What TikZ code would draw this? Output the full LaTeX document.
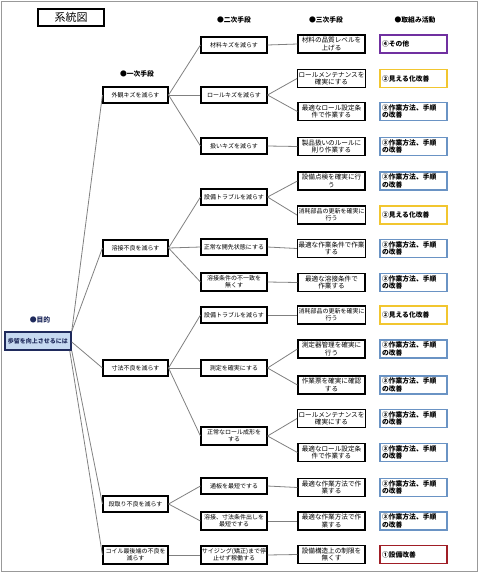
\documentclass[tikz,border=0pt]{standalone}
\usepackage{fontspec}
\setmainfont{Noto Sans CJK JP}
\begin{document}
\begin{tikzpicture}[x=1pt,y=-1pt,
  every node/.style={inner sep=1pt},
  box/.style={draw=black,line width=1.1pt,fill=white,minimum width=#1,minimum height=16,align=center,font=\fontsize{6}{7.2}\selectfont},
  box/.default=66,
  lone/.style={box=65},
  ltwo/.style={box=66},
  lthree/.style={box=67,font=\fontsize{6.6}{7.6}\selectfont},
  act/.style={draw=#1,line width=1.3pt,fill=white,minimum width=67,minimum height=18,text width=63,align=left,font=\fontsize{6.8}{7.8}\selectfont\bfseries},
  hdr/.style={font=\fontsize{6.8}{8}\selectfont\bfseries},
  conn/.style={draw=linegray,line width=0.8pt}
]
\definecolor{linegray}{HTML}{808080}
\definecolor{navy}{HTML}{1F2A5C}
\definecolor{rootfill}{HTML}{C6D9F1}
\definecolor{cpurple}{HTML}{7030A0}
\definecolor{cyellow}{HTML}{F2C62F}
\definecolor{cblue}{HTML}{6A93C4}
\definecolor{cred}{HTML}{A01E26}
\useasboundingbox (0,0) rectangle (480,573);
\draw[draw=linegray!80,line width=1pt] (1,1) rectangle (477,571.5);

% title
\node[draw=black,line width=1.6pt,minimum width=66,minimum height=17,font=\fontsize{11}{12}\selectfont] (title) at (71,17.5) {系統図};

% headers
\node[hdr,text=navy] (h0) at (40,320) {●目的};
\node[hdr] (h1) at (137,74) {●一次手段};
\node[hdr] (h2) at (234,20) {●二次手段};
\node[hdr] (h3) at (326,20) {●三次手段};
\node[hdr] (h4) at (415,20) {●取組み活動};

% root
\node[draw=navy,line width=1.5pt,fill=rootfill,minimum width=66,minimum height=18,text=navy,font=\fontsize{6}{7}\selectfont\bfseries] (root) at (38,341) {歩留を向上させるには};

% level 1
\node[lone] (a) at (135.5,95) {外観キズを減らす};
\node[lone] (b) at (135.5,248) {溶接不良を減らす};
\node[lone] (c) at (135.5,368) {寸法不良を減らす};
\node[lone] (d) at (135.5,504) {段取り不良を減らす};
\node[lone,minimum height=18] (e) at (135.5,555) {コイル最後端の不良を\\減らす};

% level 2
\node[ltwo] (a1) at (234,45) {材料キズを減らす};
\node[ltwo] (a2) at (234,95) {ロールキズを減らす};
\node[ltwo] (a3) at (234,146) {扱いキズを減らす};
\node[ltwo] (b1) at (234,197) {設備トラブルを減らす};
\node[ltwo] (b2) at (234,247) {正常な開先状態にする};
\node[ltwo,minimum height=18] (b3) at (234,282) {溶接条件の不一致を\\無くす};
\node[ltwo] (c1) at (234,315) {設備トラブルを減らす};
\node[ltwo] (c2) at (234,368) {測定を確実にする};
\node[ltwo,minimum height=18] (c3) at (234,436) {正常なロール成形を\\する};
\node[ltwo] (d1) at (234,486) {通板を最短でする};
\node[ltwo,minimum height=18] (d2) at (234,521) {溶接、寸法条件出しを\\最短でする};
\node[ltwo,minimum height=18] (e1) at (234,555) {サイジング(矯正)まで停\\止せず稼働する};

% level 3
\node[lthree,minimum height=18] (t1) at (331.5,44) {材料の品質レベルを\\上げる};
\node[lthree,minimum height=18] (t2) at (331.5,78.5) {ロールメンテナンスを\\確実にする};
\node[lthree,minimum height=18] (t3) at (331.5,111.5) {最適なロール設定条\\件で作業する};
\node[lthree,minimum height=18] (t4) at (331.5,146.5) {製品扱いのルールに\\則り作業する};
\node[lthree,minimum height=18] (t5) at (331.5,181) {設備点検を確実に行\\う};
\node[lthree,minimum height=18,font=\fontsize{6}{7.4}\selectfont] (t6) at (331.5,215) {消耗部品の更新を確実に\\行う};
\node[lthree,minimum height=18] (t7) at (331.5,248.5) {最適な作業条件で作業\\する};
\node[lthree,minimum height=18] (t8) at (331.5,282.5) {最適な溶接条件で\\作業する};
\node[lthree,minimum height=18,font=\fontsize{6}{7.4}\selectfont] (t9) at (331.5,315) {消耗部品の更新を確実に\\行う};
\node[lthree,minimum height=18] (t10) at (331.5,349) {測定器管理を確実に\\行う};
\node[lthree,minimum height=18] (t11) at (331.5,385) {作業票を確実に確認\\する};
\node[lthree,minimum height=18] (t12) at (331.5,418.5) {ロールメンテナンスを\\確実にする};
\node[lthree,minimum height=18] (t13) at (331.5,452.5) {最適なロール設定条\\件で作業する};
\node[lthree,minimum height=18] (t14) at (331.5,487.5) {最適な作業方法で作\\業する};
\node[lthree,minimum height=18] (t15) at (331.5,521) {最適な作業方法で作\\業する};
\node[lthree,minimum height=18] (t16) at (331.5,554.5) {設備構造上の制限を\\無くす};

% activities
\node[act=cpurple] (p1) at (413.5,44) {④その他};
\node[act=cyellow] (p2) at (413.5,78.5) {②見える化改善};
\node[act=cblue] (p3) at (413.5,111.5) {③作業方法、手順\\の改善};
\node[act=cblue] (p4) at (413.5,146.5) {③作業方法、手順\\の改善};
\node[act=cblue] (p5) at (413.5,181) {③作業方法、手順\\の改善};
\node[act=cyellow] (p6) at (413.5,215) {②見える化改善};
\node[act=cblue] (p7) at (413.5,248.5) {③作業方法、手順\\の改善};
\node[act=cblue] (p8) at (413.5,282.5) {③作業方法、手順\\の改善};
\node[act=cyellow] (p9) at (413.5,315) {②見える化改善};
\node[act=cblue] (p10) at (413.5,349) {③作業方法、手順\\の改善};
\node[act=cblue] (p11) at (413.5,385) {③作業方法、手順\\の改善};
\node[act=cblue] (p12) at (413.5,418.5) {③作業方法、手順\\の改善};
\node[act=cblue] (p13) at (413.5,452.5) {③作業方法、手順\\の改善};
\node[act=cblue] (p14) at (413.5,487.5) {③作業方法、手順\\の改善};
\node[act=cblue] (p15) at (413.5,521) {③作業方法、手順\\の改善};
\node[act=cred] (p16) at (413.5,554.5) {①設備改善};

% connectors root -> level 1
\begin{scope}[on background layer/.try]
\end{scope}
\path[conn] (root.north east) -- (a.west);
\path[conn] (root.north east) -- (b.west);
\path[conn] ([yshift=-1]root.east) -- (c.west);
\path[conn] (root.south east) -- (d.west);
\path[conn] ([xshift=-2]root.south east) -- (e.west);

% level 1 -> level 2
\foreach \p/\q in {a/a1,a/a2,a/a3,b/b1,b/b2,b/b3,c/c1,c/c2,c/c3,d/d1,d/d2,e/e1}
  \path[conn] (\p.east) -- (\q.west);
% level 2 -> level 3
\foreach \p/\q in {a1/t1,a2/t2,a2/t3,a3/t4,b1/t5,b1/t6,b2/t7,b3/t8,c1/t9,c2/t10,c2/t11,c3/t12,c3/t13,d1/t14,d2/t15,e1/t16}
  \path[conn] (\p.east) -- (\q.west);
\end{tikzpicture}
\end{document}
